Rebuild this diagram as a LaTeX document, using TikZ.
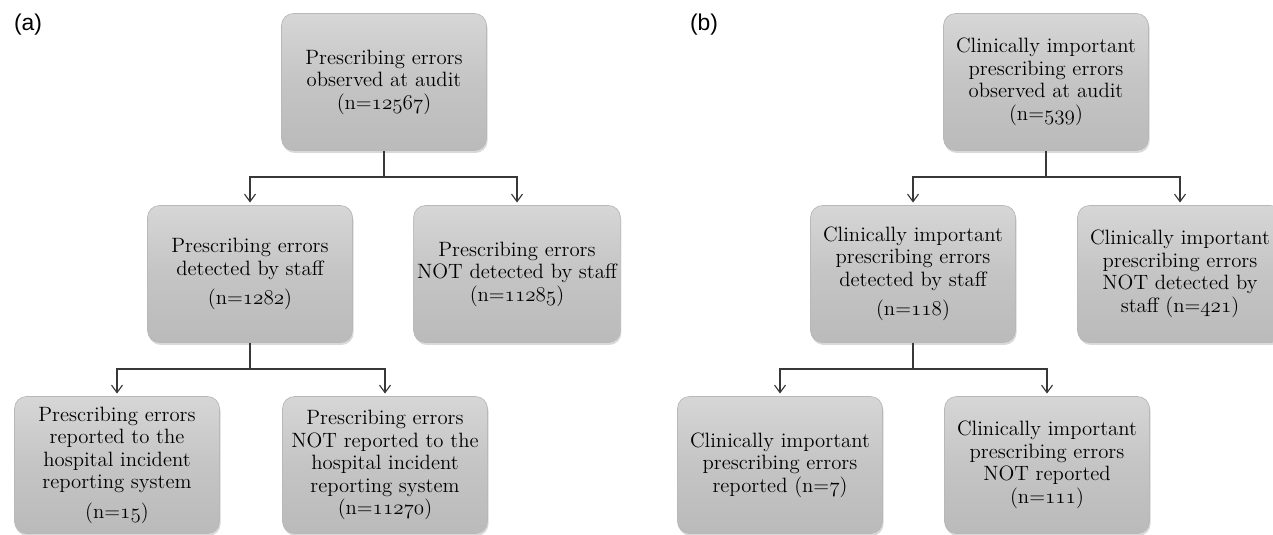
\documentclass[tikz,border=0pt]{standalone}
\usepackage{fontspec}
\newfontfamily\panelfont{Liberation Sans}
\usetikzlibrary{arrows.meta,shadows}
\newcommand{\nn}[1]{{\usefont{OML}{cmm}{m}{it}#1}}
\tikzset{
  errbox/.style={rectangle, rounded corners=0.24cm, draw=black!28, line width=0.4pt,
    top color=black!16, bottom color=black!27, middle color=black!23,
    drop shadow={opacity=0.3, shadow xshift=0.6pt, shadow yshift=-1.4pt},
    minimum width=4.1cm, minimum height=2.74cm, align=center,
    font=\fontsize{11.8}{12.8}\selectfont, inner sep=2pt},
  flow/.style={draw=black!78, line width=0.65pt},
  flowarrow/.style={flow, -{Straight Barb[length=0.15cm, width=0.22cm, line width=0.65pt]}},
  panel/.style={font=\panelfont\fontsize{13}{15}\selectfont, inner sep=0pt}
}
\begin{document}
\begin{tikzpicture}
% picture laid out in pixels of the reference
\def\pxsz{0.02cm}
\begin{scope}[x=\pxsz, y=-\pxsz]
  \useasboundingbox (0,0) rectangle (1273,534);
  % Panel (a)
  \node[panel] (labA) at (28,25) {(a)};
  \node[errbox] (topA) at (384,82) {Prescribing errors\\observed at audit\\(n=\nn{12567})};
  \node[errbox] (detA) at (250,274) {Prescribing errors\\detected by staff\\[4pt](n=\nn{1282})};
  \node[errbox] (notdetA) at (517,274) {Prescribing errors\\NOT detected by staff\\(n=\nn{11285})};
  \node[errbox] (repA) at (117,465) {Prescribing errors\\reported to the\\hospital incident\\reporting system\\[4pt](n=\nn{15})};
  \node[errbox] (notrepA) at (385,465) {Prescribing errors\\NOT reported to the\\hospital incident\\reporting system\\(n=\nn{11270})};
  \coordinate (splitA1) at (384,177);
  \coordinate (splitA2) at (250,369);
  % Panel (b)
  \node[panel] (labB) at (704,25) {(b)};
  \node[errbox] (topB) at (1046,82) {Clinically important\\prescribing errors\\observed at audit\\(n=\nn{539})};
  \node[errbox] (detB) at (913,274) {Clinically important\\prescribing errors\\detected by staff\\[4pt](n=\nn{118})};
  \node[errbox] (notdetB) at (1180,274) {Clinically important\\prescribing errors\\NOT detected by\\staff (n=\nn{421})};
  \node[errbox] (repB) at (780,465) {Clinically important\\prescribing errors\\reported (n=\nn{7})};
  \node[errbox] (notrepB) at (1047,465) {Clinically important\\prescribing errors\\NOT reported\\(n=\nn{111})};
  \coordinate (splitB1) at (1046,177);
  \coordinate (splitB2) at (913,369);
  % Connectors
  \draw[flow] (topA.south) -- (splitA1);
  \draw[flowarrow] (splitA1) -| ([yshift=1.5pt]detA.north);
  \draw[flowarrow] (splitA1) -| ([yshift=1.5pt]notdetA.north);
  \draw[flow] (detA.south) -- (splitA2);
  \draw[flowarrow] (splitA2) -| ([yshift=1.5pt]repA.north);
  \draw[flowarrow] (splitA2) -| ([yshift=1.5pt]notrepA.north);
  \draw[flow] (topB.south) -- (splitB1);
  \draw[flowarrow] (splitB1) -| ([yshift=1.5pt]detB.north);
  \draw[flowarrow] (splitB1) -| ([yshift=1.5pt]notdetB.north);
  \draw[flow] (detB.south) -- (splitB2);
  \draw[flowarrow] (splitB2) -| ([yshift=1.5pt]repB.north);
  \draw[flowarrow] (splitB2) -| ([yshift=1.5pt]notrepB.north);
\end{scope}
\end{tikzpicture}
\end{document}
